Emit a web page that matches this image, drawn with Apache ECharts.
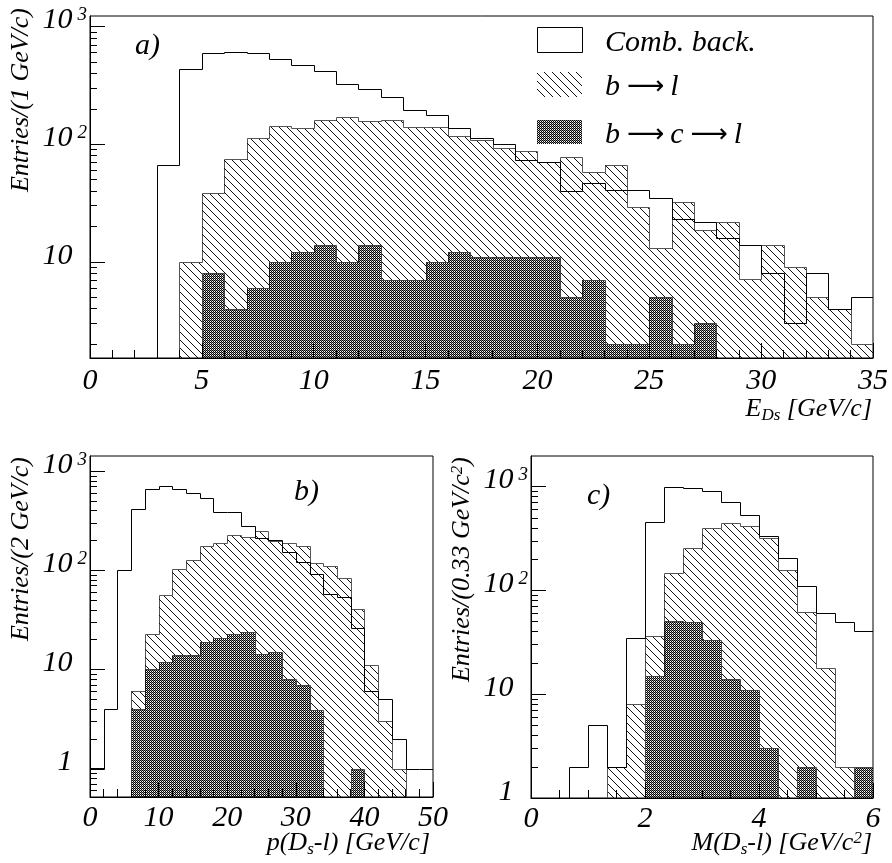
<!DOCTYPE html>
<html>
<head>
<meta charset="utf-8">
<script src="https://cdn.jsdelivr.net/npm/echarts@6/dist/echarts.min.js"></script>
<style>
  html, body { margin: 0; padding: 0; background: #fff; }
  #chart { width: 892px; height: 863px; }
</style>
</head>
<body>
<div id="chart"></div>
<script>
const SERIF = "'Liberation Serif', 'Times New Roman', 'DejaVu Serif', serif";

// ---- a) E_Ds, 1 GeV/c bins on [0, 35] ----
const eDsEdges = [0,1,2,3,4,5,6,7,8,9,10,11,12,13,14,15,16,17,18,19,20,21,22,23,24,25,26,27,28,29,30,31,32,33,34,35];
const eDsComb  = [0,0,0,67,434,601,613,597,535,469,417,328,292,253,197,176,136,112,101,74,71,40,47,41,40.5,35,23,22,16,14,8.1,3,8,4,5];
const eDsBL    = [0,0,0,0,10,38.8,75.5,113,143,138,160,171,158,160,140,139,117,108,92,88,70,78,58,67,29,13,32,18.6,22,7.1,14,9,5,4,2];
const eDsBCL   = [0,0,0,0,0,8,4,6,10,12,14,10,14,7,7,10,12,11,11,11,11,5,7,2,2,5,2,3,0,0,0,0,0,0,0];

// ---- b) p(Ds-l), 2 GeV/c bins on [0, 50] ----
const pEdges = [0,2,4,6,8,10,12,14,16,18,20,22,24,26,28,30,32,34,36,38,40,42,44,46,48,50];
const pComb  = [1,4,100,415,660,708,656,597,532,390,390,282,213,202,154,122,91,58,54,26,6,5,2,1,1];
const pBL    = [0,0,0,6,22.6,56,103,127,177,187,227,218,249,198,187,177,120,111,83,40.7,11,3,1,0,0];
const pBCL   = [0,0,0,4,10,11.8,14,14,18.8,20.9,22.8,24,14.2,15.1,8,7,3.9,0,0,1,0,0,0,0,0];

// ---- c) M(Ds-l), 0.33 GeV/c^2 bins on [0, 6] ----
const mEdges = [0,1/3,2/3,1,4/3,5/3,2,7/3,8/3,3,10/3,11/3,4,13/3,14/3,5,16/3,17/3,6];
const mComb  = [0,0,2,5,2,34.7,459,985,963,900,716,533,332,204,110,61,50,41];
const mBL    = [0,0,0,0,2,8,36.7,146,258,400,450,418,317,157,62,18,2,2];
const mBCL   = [0,0,0,0,0,0,15,51,50,33,14,11,3,0,2,0,0,2];

// labelled decades on the log axes
const yLabelsA  = [10, 100, 1000];
const yLabelsBC = [1, 10, 100, 1000];

// ---- fill patterns ----
function diagonalTile() {
  const c = document.createElement('canvas');
  c.width = 8; c.height = 8;
  const g = c.getContext('2d');
  g.fillStyle = '#111';
  for (let i = 0; i < 8; i++) g.fillRect(i, i, 1, 1);
  return c;
}
function denseTile() {
  const c = document.createElement('canvas');
  c.width = 2; c.height = 2;
  const g = c.getContext('2d');
  g.fillStyle = '#000';
  g.fillRect(0, 0, 1, 1);
  g.fillRect(1, 1, 1, 1);
  g.fillStyle = 'rgba(0,0,0,0.45)';
  g.fillRect(1, 0, 1, 1);
  return c;
}
const hatchFill = { image: diagonalTile(), repeat: 'repeat' };
const denseFill = { image: denseTile(), repeat: 'repeat' };

// step histogram drawn bin by bin through the axis scales
function histogram(grid, edges, values, look) {
  const data = [];
  values.forEach((v, i) => {
    if (v > 0) {
      data.push([edges[i], edges[i + 1], v,
                 i > 0 ? values[i - 1] : 0,
                 i < values.length - 1 ? values[i + 1] : 0]);
    }
  });
  return {
    type: 'custom',
    name: look.name,
    xAxisIndex: grid,
    yAxisIndex: grid * 2,
    clip: true,
    silent: true,
    z: look.z,
    encode: { x: [0, 1], y: 2 },
    data: data,
    renderItem: function (params, api) {
      const cs = params.coordSys;
      const bottom = Math.round(cs.y + cs.height);
      const top = Math.round(cs.y);
      const lo = api.value(0), hi = api.value(1), v = api.value(2);
      const pv = api.value(3), nv = api.value(4);
      const px = x => Math.round(api.coord([x, v])[0]);
      const py = val => val > 0
        ? Math.max(top, Math.min(bottom, Math.round(api.coord([lo, val])[1])))
        : bottom;
      const x0 = px(lo), x1 = px(hi), y = py(v);
      const kids = [];
      if (look.fill) {
        kids.push({ type: 'rect', shape: { x: x0, y: y, width: x1 - x0, height: bottom - y },
                    style: { fill: look.fill } });
      }
      const pts = [];
      if (!(pv > 0)) pts.push([x0 + 0.5, bottom + 0.5]);
      pts.push([x0 + 0.5, y + 0.5], [x1 + 0.5, y + 0.5], [x1 + 0.5, py(nv) + 0.5]);
      kids.push({ type: 'polyline', shape: { points: pts },
                  style: { stroke: look.stroke, lineWidth: 1, fill: 'none' } });
      return { type: 'group', children: kids };
    }
  };
}

function minorLogTicks(lo, hi) {
  const out = [];
  for (let e = -1; e <= 3; e++) {
    for (let m = 2; m <= 9; m++) {
      const t = m * Math.pow(10, e);
      if (t > lo && t < hi) out.push(+t.toPrecision(3));
    }
  }
  return out;
}

const labelRich = {
  b: { fontSize: 30, fontStyle: 'italic', fontFamily: SERIF, color: '#000', lineHeight: 30, verticalAlign: 'bottom' },
  s: { fontSize: 19, fontStyle: 'italic', fontFamily: SERIF, color: '#000', lineHeight: 19, verticalAlign: 'top', padding: [0, 0, 22, 5] },
  h: { fontSize: 19, fontStyle: 'italic', fontFamily: SERIF, color: 'rgba(0,0,0,0)', lineHeight: 19, verticalAlign: 'top', padding: [0, 0, 22, 5] }
};
function decadeLabel(v) {
  const e = Math.round(Math.log10(v));
  if (e === 0) return '{b|1}{h|2}';
  if (e === 1) return '{b|10}{h|2}';
  return '{b|10}{s|' + e + '}';
}

const panels = [
  { grid: { left: 90, top: 16, width: 783, height: 342 },
    x: { min: 0, max: 35, interval: 5, minor: 5, margin: 8 },
    y: { min: 1.52, max: 1230, labels: yLabelsA } },
  { grid: { left: 90, top: 456, width: 343, height: 341 },
    x: { min: 0, max: 50, interval: 10, minor: 5, margin: 6 },
    y: { min: 0.517, max: 1426, labels: yLabelsBC } },
  { grid: { left: 531, top: 456, width: 342, height: 342 },
    x: { min: 0, max: 6, interval: 2, minor: 4, margin: 6 },
    y: { min: 1, max: 1971, labels: yLabelsBC } }
];

const grids = panels.map(p => Object.assign({
  show: true, borderColor: '#000', borderWidth: 1, backgroundColor: '#fff'
}, p.grid));

const xAxes = panels.map((p, i) => ({
  type: 'value', gridIndex: i, min: p.x.min, max: p.x.max, interval: p.x.interval, z: 10,
  axisLine: { show: true, lineStyle: { color: '#000', width: 1 } },
  axisTick: { show: true, inside: true, length: 15, lineStyle: { color: '#000', width: 1 } },
  minorTick: { show: true, splitNumber: p.x.minor, length: 8, lineStyle: { color: '#000', width: 1 } },
  splitLine: { show: false },
  axisLabel: { margin: p.x.margin, fontSize: 30, fontStyle: 'italic', fontFamily: SERIF, color: '#000',
               showMinLabel: true, showMaxLabel: true }
}));

const yAxes = [];
panels.forEach((p, i) => {
  yAxes.push({
    type: 'log', logBase: 10, gridIndex: i, position: 'left', min: p.y.min, max: p.y.max, z: 10,
    axisLine: { show: true, lineStyle: { color: '#000', width: 1 } },
    axisTick: { show: true, inside: true, length: 15, customValues: p.y.labels, lineStyle: { color: '#000', width: 1 } },
    splitLine: { show: false },
    minorTick: { show: false },
    axisLabel: { customValues: p.y.labels, formatter: decadeLabel, rich: labelRich, margin: 3, padding: [0, 0, 12, 0] }
  });
  yAxes.push({
    type: 'log', logBase: 10, gridIndex: i, position: 'left', offset: 0, min: p.y.min, max: p.y.max, z: 10,
    axisLine: { show: false },
    axisTick: { show: true, inside: true, length: 7, customValues: minorLogTicks(p.y.min, p.y.max),
                lineStyle: { color: '#000', width: 1 } },
    splitLine: { show: false },
    axisLabel: { show: false }
  });
});

const sets = [
  [eDsEdges, eDsComb, eDsBL, eDsBCL],
  [pEdges, pComb, pBL, pBCL],
  [mEdges, mComb, mBL, mBCL]
];
const series = [];
sets.forEach((s, i) => {
  series.push(histogram(i, s[0], s[2], { name: 'b → l', fill: hatchFill, stroke: '#555', z: 2 }));
  series.push(histogram(i, s[0], s[3], { name: 'b → c → l', fill: denseFill, stroke: '#444', z: 3 }));
  series.push(histogram(i, s[0], s[1], { name: 'Comb. back.', fill: null, stroke: '#000', z: 4 }));
});

const titleRich = {
  n:   { fontSize: 26, fontStyle: 'italic', fontFamily: SERIF, color: '#000', lineHeight: 28, verticalAlign: 'top' },
  sub: { fontSize: 17, fontStyle: 'italic', fontFamily: SERIF, color: '#000', lineHeight: 17, verticalAlign: 'bottom', padding: [15, 0, 0, 0] },
  sup: { fontSize: 17, fontStyle: 'italic', fontFamily: SERIF, color: '#000', lineHeight: 17, verticalAlign: 'top' }
};
function titleText(x, y, text, rot, align, vAlign) {
  return { type: 'text', x: x, y: y, rotation: rot, z: 20,
           style: { text: text, rich: titleRich, align: align, verticalAlign: vAlign,
                    font: 'italic 26px ' + SERIF, fill: '#000' } };
}
function plainText(x, y, text, size) {
  return { type: 'text', x: x, y: y, z: 20,
           style: { text: text, font: 'italic ' + size + 'px ' + SERIF, fill: '#000',
                    align: 'left', verticalAlign: 'middle' } };
}
const legendRich = {
  t: { fontSize: 30, fontStyle: 'italic', fontFamily: SERIF, color: '#000', lineHeight: 34 },
  a: { fontSize: 26, fontFamily: "'DejaVu Sans', sans-serif", color: '#000', lineHeight: 34, padding: [0, 6, 0, 7] }
};
function legendText(x, y, text) {
  return { type: 'text', x: x, y: y, z: 20,
           style: { text: text, rich: legendRich, align: 'left', verticalAlign: 'middle',
                    font: 'italic 30px ' + SERIF, fill: '#000' } };
}

const graphic = [
  // axis titles
  titleText(22, 8, '{n|Entries/(1 GeV/c)}', Math.PI / 2, 'right', 'middle'),
  titleText(22, 457, '{n|Entries/(2 GeV/c)}', Math.PI / 2, 'right', 'middle'),
  titleText(463, 457, '{n|Entries/(0.33 GeV/c}{sup|2}{n|)}', Math.PI / 2, 'right', 'middle'),
  titleText(872, 396, '{n|E}{sub|Ds}{n| [GeV/c]}', 0, 'right', 'top'),
  titleText(430, 830, '{n|p(D}{sub|s}{n|-l) [GeV/c]}', 0, 'right', 'top'),
  titleText(872, 830, '{n|M(D}{sub|s}{n|-l) [GeV/c}{sup|2}{n|]}', 0, 'right', 'top'),
  // panel tags
  plainText(135, 46, 'a)', 30),
  plainText(294, 492, 'b)', 30),
  plainText(587, 496, 'c)', 30),
  // legend
  { type: 'rect', z: 20, shape: { x: 537.5, y: 27.5, width: 45, height: 25 }, style: { fill: '#fff', stroke: '#000', lineWidth: 1 } },
  { type: 'rect', z: 20, shape: { x: 537, y: 72, width: 45, height: 25 }, style: { fill: hatchFill } },
  { type: 'rect', z: 20, shape: { x: 537, y: 120, width: 45, height: 24 }, style: { fill: denseFill } },
  legendText(605, 43, '{t|Comb. back.}'),
  legendText(605, 87, '{t|b}{a|⟶}{t|l}'),
  legendText(605, 135, '{t|b}{a|⟶}{t|c}{a|⟶}{t|l}')
];

const chart = echarts.init(document.getElementById('chart'), null, { renderer: 'canvas' });
chart.setOption({
  animation: false,
  backgroundColor: '#fff',
  grid: grids,
  xAxis: xAxes,
  yAxis: yAxes,
  series: series,
  graphic: graphic
});
</script>
</body>
</html>
